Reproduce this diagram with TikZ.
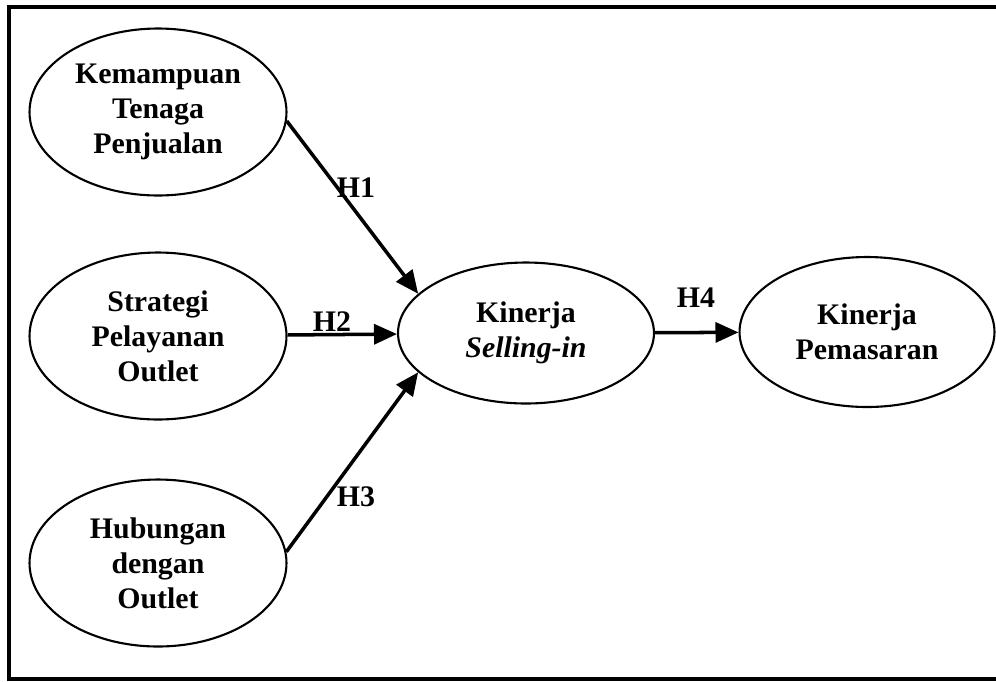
\documentclass[tikz,border=0pt]{standalone}
\usepackage{fontspec}
\setmainfont{Liberation Serif}
\usetikzlibrary{shapes.geometric,arrows.meta}
\tikzset{
  var/.style={draw,ellipse,line width=1.2pt,inner sep=0pt,align=center,
    font=\fontsize{17}{20}\selectfont\bfseries},
  hyp/.style={line width=2pt,-{Triangle[length=0.46cm,width=0.4cm]}},
  hlabel/.style={inner sep=0pt,font=\fontsize{17}{20}\selectfont\bfseries}
}
\begin{document}
\begin{tikzpicture}[x=0.02cm,y=-0.02cm]
\useasboundingbox (0,0) rectangle (996,681);
% frame (right side runs off the page)
\draw[line width=2.2pt] (996,7) -- (9,7) -- (9,679) -- (996,679);
% variables
\node[var,minimum width=5.14cm,minimum height=3.34cm] (kemampuan) at (158,112) {Kemampuan\\Tenaga\\Penjualan};
\node[var,minimum width=5.14cm,minimum height=3.34cm] (strategi) at (158,336) {Strategi\\Pelayanan\\Outlet};
\node[var,minimum width=5.14cm,minimum height=3.34cm] (hubungan) at (158,563) {Hubungan\\dengan\\Outlet};
\node[var,minimum width=5.12cm,minimum height=2.82cm] (sellingin) at (526,333) {Kinerja\\\textit{Selling-in}};
\node[var,minimum width=5.1cm,minimum height=3.0cm] (pemasaran) at (867,332) {Kinerja\\Pemasaran};
% hypotheses
\draw[hyp] (kemampuan.-4) -- (sellingin.160);
\draw[hyp] (strategi) -- (sellingin);
\draw[hyp] (hubungan.5) -- (sellingin.200);
\draw[hyp] (sellingin) -- (pemasaran);
\node[hlabel] (h1) at (356,188) {H1};
\node[hlabel] (h2) at (332,322) {H2};
\node[hlabel] (h3) at (356,497) {H3};
\node[hlabel] (h4) at (696,298) {H4};
\end{tikzpicture}
\end{document}
